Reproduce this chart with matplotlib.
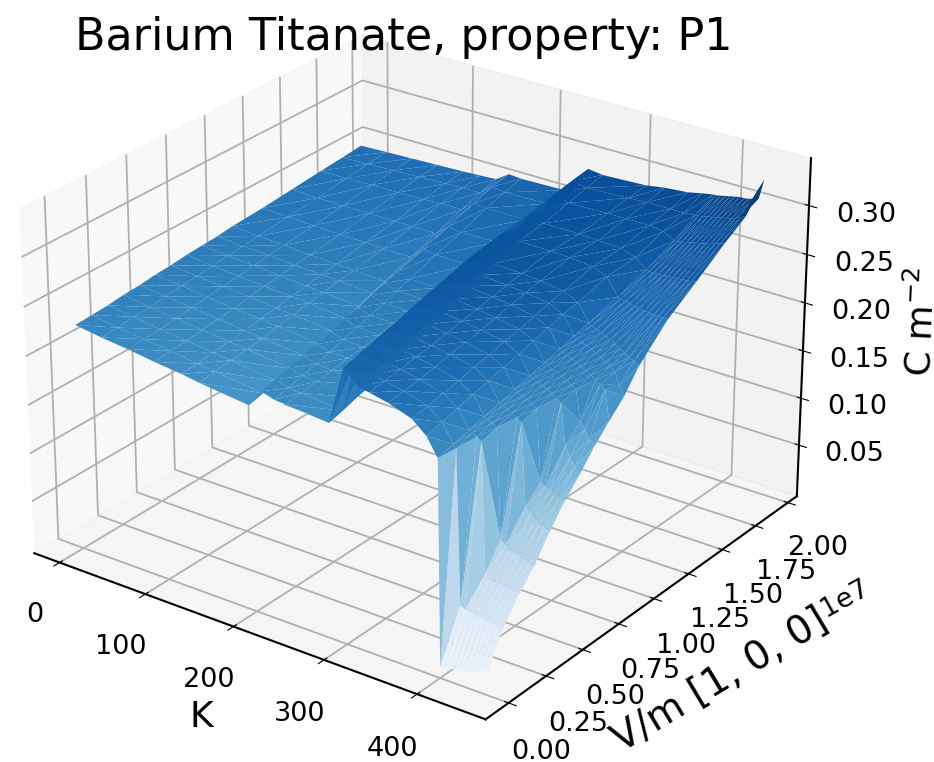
import numpy as np
import matplotlib
matplotlib.use("Agg")
import matplotlib.pyplot as plt

# field values (V/m, in units of 1e7)
E_field = [0.0, 0.1, 0.2, 0.3, 0.4, 0.5, 0.6, 0.7, 0.8, 0.9, 1.0, 1.2, 1.4, 1.6, 1.75, 1.88]

# temperatures (K): the two phase steps move with the field, the rest do not
temps_low = [0, 30, 60, 90, 120, 140]
step1_low = [195, 193, 191, 189, 187, 185, 183, 181, 179, 177, 175, 171, 167, 163, 160, 158]
step1_top = [209, 207, 205, 203, 201, 199, 197, 195, 193, 191, 189, 185, 181, 177, 174, 172]
step1_end = [223, 221, 219, 217, 215, 213, 211, 209, 207, 205, 203, 199, 195, 191, 188, 186]
temps_mid = [235]
step2_low = [282, 280, 278, 276, 274, 272, 270, 268, 266, 264, 262, 258, 254, 250, 247, 245]
step2_top = [298, 296, 294, 292, 290, 288, 286, 284, 282, 280, 278, 274, 270, 266, 263, 261]
step2_end = [314, 312, 310, 308, 306, 304, 302, 300, 298, 296, 294, 290, 286, 282, 279, 277]
temps_high = [325, 345, 370, 385, 397, 400, 405, 410, 415, 420, 425, 430, 435, 440, 445, 450]

# P1 in C/m^2, one list per field value, going up in temperature
P1_columns = [
    [.227, .223, .220, .216, .213, .210, .204, .222, .218, .217, .213, .272, .258, .256, .252, .244, .232, .214,
     .006, .007, .008, .009, .010, .011, .012, .014, .016, .018, .020],
    [.228, .224, .221, .218, .214, .212, .206, .224, .220, .219, .215, .274, .260, .258, .254, .247, .236, .218,
     .215, .060, .058, .056, .055, .054, .054, .053, .053, .052, .052],
    [.229, .226, .222, .219, .216, .214, .208, .226, .222, .221, .218, .276, .262, .260, .256, .250, .240, .222,
     .220, .218, .215, .085, .082, .080, .079, .078, .077, .076, .075],
    [.231, .227, .224, .221, .218, .216, .211, .228, .224, .223, .220, .278, .265, .263, .259, .253, .244, .226,
     .224, .222, .219, .110, .105, .102, .100, .098, .096, .094, .093],
    [.232, .229, .226, .223, .220, .218, .214, .230, .226, .226, .224, .280, .268, .265, .262, .257, .248, .230,
     .228, .226, .224, .221, .218, .135, .130, .126, .123, .120, .117],
    [.234, .231, .228, .225, .223, .221, .217, .233, .229, .228, .227, .283, .271, .268, .265, .260, .252, .234,
     .232, .230, .228, .225, .222, .150, .147, .145, .143, .140, .138],
    [.235, .232, .230, .228, .225, .224, .220, .236, .232, .231, .230, .285, .274, .271, .268, .264, .256, .238,
     .236, .234, .232, .230, .227, .224, .221, .180, .170, .162, .155],
    [.237, .234, .232, .230, .228, .227, .223, .238, .234, .234, .233, .287, .277, .274, .271, .267, .260, .242,
     .240, .238, .236, .234, .231, .228, .225, .195, .188, .180, .174],
    [.238, .236, .234, .232, .230, .229, .226, .241, .237, .237, .236, .289, .280, .277, .275, .271, .264, .246,
     .244, .242, .240, .238, .236, .233, .230, .227, .224, .220, .190],
    [.239, .237, .236, .234, .233, .232, .230, .244, .240, .240, .240, .291, .282, .280, .278, .275, .268, .250,
     .248, .246, .244, .242, .240, .237, .234, .231, .227, .215, .205],
    [.241, .239, .238, .236, .235, .234, .233, .246, .243, .243, .243, .292, .284, .283, .281, .278, .271, .254,
     .252, .250, .248, .246, .244, .241, .238, .235, .232, .230, .226],
    [.243, .242, .241, .240, .240, .239, .239, .251, .249, .249, .250, .293, .288, .288, .287, .285, .279, .262,
     .261, .260, .259, .258, .257, .256, .256, .255, .255, .255, .255],
    [.246, .245, .245, .245, .245, .245, .245, .256, .254, .255, .256, .293, .288, .288, .287, .286, .281, .272,
     .271, .271, .271, .271, .272, .272, .272, .273, .273, .274, .275],
    [.249, .249, .250, .250, .251, .252, .252, .262, .261, .261, .262, .295, .291, .292, .292, .292, .290, .284,
     .284, .285, .286, .287, .288, .289, .290, .291, .293, .294, .296],
    [.251, .252, .253, .254, .255, .256, .256, .266, .264, .265, .265, .296, .293, .295, .296, .296, .296, .297,
     .297, .298, .299, .300, .301, .302, .303, .304, .306, .308, .310],
    [.253, .254, .255, .256, .257, .258, .259, .268, .267, .268, .269, .297, .295, .297, .300, .302, .305, .307,
     .307, .308, .309, .310, .311, .312, .312, .313, .314, .316, .336],
]

x_ticks = [0, 100, 200, 300, 400]
y_ticks = [0.0, 0.25, 0.5, 0.75, 1.0, 1.25, 1.5, 1.75, 2.0]
z_ticks = [0.05, 0.10, 0.15, 0.20, 0.25, 0.30]

Ts, Es, Ps = [], [], []
for j, e in enumerate(E_field):
    col_T = temps_low + [step1_low[j], step1_top[j], step1_end[j]] + temps_mid \
        + [step2_low[j], step2_top[j], step2_end[j]] + temps_high
    Ts += col_T
    Es += [e * 1e7] * len(col_T)
    Ps += P1_columns[j]

# mesh follows the grid so the steps stay along the field direction
n_T = len(P1_columns[0])
triangles = []
for j in range(len(E_field) - 1):
    for i in range(n_T - 1):
        a = j * n_T + i
        b = a + 1
        c = a + n_T
        d = c + 1
        triangles += [[a, b, d], [a, d, c]]

fig = plt.figure(figsize=(9.34, 7.62), dpi=100)
ax = fig.add_axes([-0.102, -0.023, 1.08, 1.08], projection="3d")
ax.view_init(elev=26, azim=-54)
ax.set_box_aspect((4, 4, 2.73), zoom=1.03)

ax.plot_trisurf(np.array(Ts), np.array(Es), np.array(Ps), triangles=triangles, cmap="Blues",
                vmin=0, vmax=0.336, linewidth=0.2, antialiased=True)

ax.set_xlim(-30, 472)
ax.set_ylim(-0.15e7, 2.07e7)
ax.set_zlim(-0.005, 0.348)
ax.set_xticks(x_ticks)
ax.set_yticks(np.array(y_ticks) * 1e7)
ax.set_zticks(z_ticks)
ax.tick_params(labelsize=19.5)
ax.tick_params(axis="x", pad=14)
ax.tick_params(axis="y", pad=13)
ax.tick_params(axis="z", pad=15)
ax.yaxis.get_offset_text().set_visible(False)

ax.set_xlabel("K", fontsize=26, labelpad=24)
ax.yaxis.set_rotate_label(False)
ax.set_ylabel("V/m [1, 0, 0]", fontsize=28, labelpad=27, rotation=31)
ax.set_zlabel("C m$^{-2}$", fontsize=26, labelpad=27)

for axis in (ax.xaxis, ax.yaxis, ax.zaxis):
    axis.line.set_linewidth(1.5)
    axis._axinfo["grid"]["color"] = "#b0b0b0"
    axis._axinfo["grid"]["linewidth"] = 1.3

fig.text(0.08, 0.935, "Barium Titanate, property: P1", fontsize=32)
fig.text(0.905, 0.215, "1e7", fontsize=19.5, rotation=29, ha="center", va="center")

fig.savefig("out.png", dpi=100)
